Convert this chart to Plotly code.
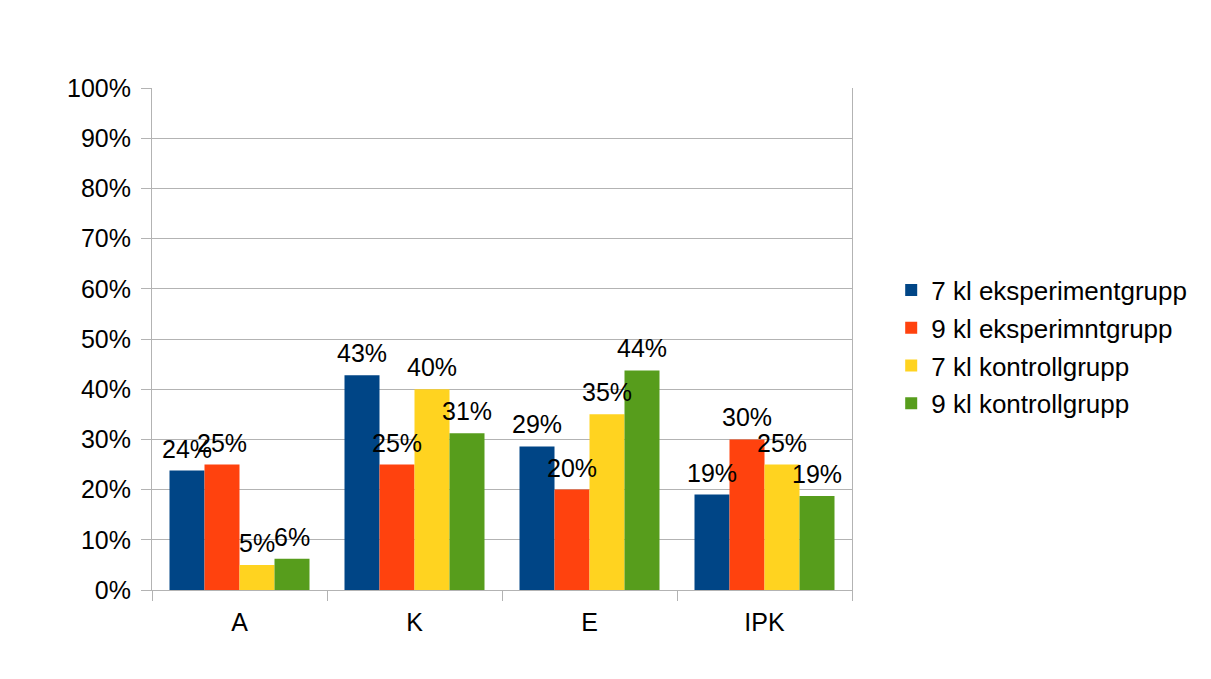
import plotly.graph_objects as go

categories = ["A", "K", "E", "IPK"]
series_names = [
    "7 kl eksperimentgrupp",
    "9 kl eksperimntgrupp",
    "7 kl kontrollgrupp",
    "9 kl kontrollgrupp",
]
exp7 = [0.238, 0.428, 0.286, 0.19]
exp9 = [0.25, 0.25, 0.20, 0.30]
kon7 = [0.05, 0.40, 0.35, 0.25]
kon9 = [0.0625, 0.3125, 0.4375, 0.1875]
colors = ["#004586", "#ff420e", "#ffd320", "#579d1c"]

FONT = "Liberation Sans, Arial, sans-serif"
GRID = "#b3b3b3"

# plot area geometry used to place value labels over each bar
PLOT_W = 1211 - 152 - 359
BARGAP = 0.2
n_series = 4
bar_px = PLOT_W / len(categories) * (1 - BARGAP) / n_series

fig = go.Figure()
all_series = [exp7, exp9, kon7, kon9]
for i, (name, vals) in enumerate(zip(series_names, all_series)):
    fig.add_trace(go.Bar(
        x=categories,
        y=vals,
        name=name,
        legendgroup=f"g{i}",
        marker=dict(color=colors[i], line=dict(width=0)),
        hovertemplate="%{x}: %{y:.0%}<extra>" + name + "</extra>",
    ))
    for cat, v in zip(categories, vals):
        fig.add_annotation(
            x=cat, y=v, xref="x", yref="y",
            text=f"{v:.0%}",
            showarrow=False,
            xanchor="center", yanchor="bottom",
            xshift=(i - (n_series - 1) / 2) * bar_px,
            yshift=6,
            font=dict(family=FONT, size=25, color="#000000"),
        )

fig.update_layout(
    width=1211,
    height=679,
    margin=dict(l=152, r=359, t=88, b=89),
    paper_bgcolor="white",
    plot_bgcolor="white",
    barmode="group",
    bargap=BARGAP,
    bargroupgap=0,
    font=dict(family=FONT, size=25, color="#000000"),
    legend=dict(
        x=1.056, xanchor="left",
        y=0.484, yanchor="middle",
        font=dict(family=FONT, size=26, color="#000000"),
        tracegroupgap=1,
        bgcolor="rgba(0,0,0,0)",
    ),
    xaxis=dict(
        type="category",
        showline=True, linecolor=GRID, linewidth=1,
        ticks="outside", tickson="boundaries", ticklen=10, tickcolor=GRID,
        showgrid=False,
        ticklabelstandoff=10,
        tickfont=dict(family=FONT, size=25, color="#000000"),
    ),
    yaxis=dict(
        range=[0, 1], dtick=0.1, tickformat=".0%",
        showline=True, mirror=True, linecolor=GRID, linewidth=1,
        showgrid=True, gridcolor=GRID, gridwidth=1,
        zeroline=False,
        ticks="outside", ticklen=10, tickcolor=GRID,
        ticklabelstandoff=5,
        tickfont=dict(family=FONT, size=25, color="#000000"),
    ),
)

fig.write_html("out.html")
